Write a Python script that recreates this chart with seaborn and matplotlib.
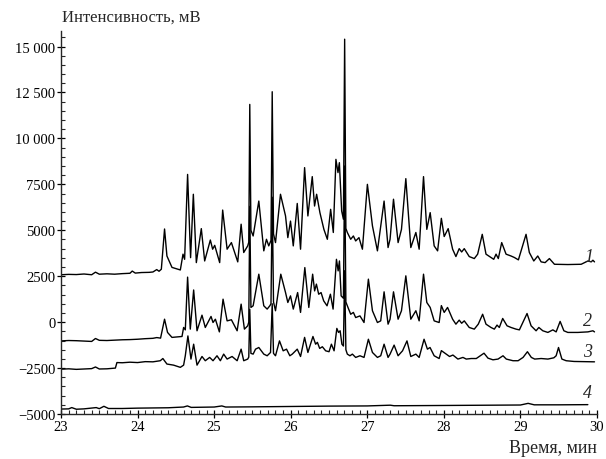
import numpy as np
import pandas as pd
import seaborn as sns
import matplotlib
matplotlib.use('Agg')
import matplotlib.pyplot as plt
import matplotlib.ticker as ticker

# retention time (min) and signal (mV)
t1 = [23.00, 23.10, 23.20, 23.30, 23.40, 23.45, 23.50, 23.60, 23.70, 23.80, 23.90, 23.93, 23.97,
      24.05, 24.15, 24.20, 24.25, 24.28, 24.31, 24.352, 24.383, 24.449, 24.558, 24.593, 24.614,
      24.653, 24.692, 24.728, 24.767, 24.832, 24.876, 24.950, 24.980, 25.007, 25.072, 25.111,
      25.169, 25.225, 25.308, 25.352, 25.386, 25.438, 25.452, 25.465, 25.480, 25.509, 25.583,
      25.648, 25.683, 25.713, 25.742, 25.758, 25.775, 25.801, 25.866, 25.932, 25.962, 25.997,
      26.033, 26.085, 26.128, 26.181, 26.224, 26.281, 26.311, 26.338, 26.381, 26.433, 26.478,
      26.521, 26.556, 26.590, 26.617, 26.635, 26.665, 26.688, 26.704, 26.720, 26.739, 26.783,
      26.818, 26.848, 26.891, 26.936, 27.001, 27.067, 27.132, 27.219, 27.271, 27.297, 27.342,
      27.402, 27.446, 27.503, 27.568, 27.634, 27.677, 27.734, 27.777, 27.821, 27.873, 27.918,
      27.967, 28.004, 28.056, 28.114, 28.157, 28.200, 28.232, 28.266, 28.331, 28.397, 28.441,
      28.501, 28.550, 28.615, 28.651, 28.681, 28.711, 28.755, 28.812, 28.877, 28.920, 28.973,
      29.073, 29.116, 29.174, 29.226, 29.270, 29.322, 29.378, 29.444, 29.530, 29.619, 29.700,
      29.793, 29.881, 29.924, 29.946, 29.967]
v1 = [2580, 2600, 2590, 2620, 2580, 2720, 2610, 2630, 2610, 2640, 2660, 2780, 2670,
      2700, 2710, 2730, 2860, 2770, 2880, 5070, 3600, 2980, 2840, 3700, 3420,
      8040, 3510, 6960, 3240, 5090, 3330, 4470, 3970, 4180, 3240, 6100,
      3970, 4330, 3280, 5330, 3790, 4150, 4350, 11850, 5000, 4690, 6590,
      3880, 4510, 4150, 4450, 12540, 4800, 4330, 6960, 5780, 4600, 5500,
      4150, 6460, 3970, 8410, 5780, 7920, 6320, 6960, 5960, 5050, 4510,
      6140, 4880, 8860, 8140, 8680, 6050, 5600, 15400, 5100, 4880, 4510,
      4690, 4420, 4600, 3970, 7500, 5240, 3880, 6590, 4060, 4510, 6690,
      4330, 5050, 7810, 4060, 4880, 3970, 7920, 5050, 5960, 4150, 3880,
      5650, 4660, 5090, 3970, 3570, 4000, 3820, 4000, 3570, 3460, 3700,
      4780, 3700, 3520, 3420, 3700, 3460, 4330, 3700, 3600, 3520, 3390,
      4780, 3790, 3330, 3600, 3280, 3240, 3460, 3150, 3140, 3135, 3140,
      3150, 3330, 3280, 3370, 3280]

t2 = [23.00, 23.10, 23.20, 23.30, 23.40, 23.45, 23.50, 23.60, 23.70, 23.80, 23.90, 24.00, 24.10,
      24.20, 24.25, 24.30, 24.352, 24.391, 24.449, 24.580, 24.601, 24.623, 24.653, 24.688, 24.732,
      24.776, 24.841, 24.884, 24.959, 24.985, 25.016, 25.068, 25.116, 25.169, 25.225, 25.300,
      25.352, 25.395, 25.438, 25.452, 25.465, 25.480, 25.509, 25.540, 25.583, 25.648, 25.692,
      25.727, 25.742, 25.758, 25.775, 25.801, 25.870, 25.932, 25.962, 25.997, 26.033, 26.090,
      26.128, 26.184, 26.236, 26.286, 26.312, 26.335, 26.365, 26.396, 26.430, 26.474, 26.518,
      26.553, 26.597, 26.619, 26.636, 26.658, 26.688, 26.704, 26.720, 26.739, 26.783, 26.818,
      26.848, 26.904, 26.957, 27.014, 27.067, 27.132, 27.175, 27.219, 27.271, 27.297, 27.342,
      27.402, 27.446, 27.503, 27.568, 27.634, 27.677, 27.734, 27.777, 27.821, 27.873, 27.938,
      27.967, 28.004, 28.048, 28.114, 28.157, 28.200, 28.232, 28.266, 28.331, 28.397, 28.449,
      28.506, 28.550, 28.615, 28.659, 28.694, 28.724, 28.768, 28.825, 28.877, 28.942, 28.986,
      29.086, 29.139, 29.204, 29.240, 29.292, 29.358, 29.423, 29.466, 29.518, 29.567, 29.619,
      29.750, 29.881, 29.946, 29.967]
v2 = [-1020, -1000, -1010, -1030, -1050, -890, -990, -1000, -980, -960, -950, -930, -900,
      -880, -840, -870, 160, -560, -830, -780, -290, -420, 2450, -380, 1750,
      -470, 380, -290, 310, -20, 160, -530, 1250, 70, 130, -470,
      980, -380, -200, 0, 6300, 800, 890, 1610, 2610, 890, 710,
      890, 1000, 6800, 1100, 620, 2610, 1610, 1070, 1430, 710, 1610,
      530, 2970, 800, 2610, 1700, 2070, 1520, 1610, 1160, 890, 1520,
      710, 3420, 2790, 3330, 1430, 1300, 8500, 1100, 890, 430, 530,
      250, 340, -20, 2340, 620, -20, 70, 1650, -110, 160, 1650,
      160, 620, 2520, 160, 620, 70, 2610, 1070, 800, 70, -20,
      900, 530, 800, 160, -110, 110, -60, 70, -290, -380, -110,
      430, -110, -290, -380, -160, -290, 200, -200, -290, -380, -420,
      470, -200, -470, -290, -470, -560, -420, -530, 40, -470, -560,
      -560, -530, -470, -530]

t3 = [23.00, 23.10, 23.20, 23.30, 23.40, 23.45, 23.50, 23.60, 23.71, 23.73, 23.80, 23.90, 24.00,
      24.10, 24.20, 24.296, 24.33, 24.383, 24.470, 24.558, 24.601, 24.623, 24.657, 24.697, 24.732,
      24.776, 24.841, 24.884, 24.941, 24.985, 25.037, 25.081, 25.124, 25.169, 25.234, 25.300,
      25.352, 25.386, 25.438, 25.452, 25.465, 25.480, 25.509, 25.540, 25.583, 25.648, 25.692,
      25.736, 25.758, 25.775, 25.801, 25.853, 25.901, 25.945, 25.988, 26.020, 26.085, 26.128,
      26.181, 26.224, 26.290, 26.325, 26.348, 26.378, 26.413, 26.456, 26.500, 26.531, 26.566,
      26.602, 26.624, 26.645, 26.668, 26.688, 26.704, 26.720, 26.739, 26.773, 26.805, 26.848,
      26.904, 26.957, 27.014, 27.067, 27.132, 27.175, 27.219, 27.271, 27.297, 27.350, 27.402,
      27.460, 27.518, 27.568, 27.634, 27.677, 27.741, 27.785, 27.819, 27.873, 27.938, 27.967,
      28.031, 28.074, 28.118, 28.183, 28.249, 28.292, 28.357, 28.423, 28.524, 28.576, 28.641,
      28.707, 28.772, 28.815, 28.903, 28.969, 29.034, 29.091, 29.142, 29.186, 29.270, 29.358,
      29.436, 29.466, 29.497, 29.541, 29.597, 29.700, 29.967]
v3 = [-2560, -2540, -2570, -2550, -2530, -2440, -2550, -2540, -2500, -2200, -2210, -2180, -2200,
      -2150, -2160, -2100, -1980, -2280, -2340, -2460, -2340, -1830, -750, -2010, -1200,
      -2340, -1870, -2100, -1920, -2100, -1830, -2100, -1740, -2010, -1870, -2100,
      -1470, -2100, -2010, -1900, 700, -1700, -1740, -1470, -1380, -1740, -1830,
      -1650, 1000, -1700, -1830, -1020, -1560, -1470, -1830, -1740, -1470, -1870,
      -830, -1650, -780, -1200, -1100, -1430, -1340, -1560, -1610, -1200, -1560,
      -340, -560, -470, -1200, -1300, 2800, -1500, -1740, -1830, -1740, -1920,
      -1830, -1920, -930, -1650, -1920, -1830, -1200, -1920, -1740, -1250, -1830,
      -1560, -1020, -1870, -1740, -1920, -930, -1470, -1380, -1830, -1980, -1550,
      -1740, -1870, -1790, -2010, -1920, -2010, -1980, -1980, -1690, -1960, -2050,
      -2010, -1830, -2010, -2100, -2100, -1920, -1610, -1920, -2010, -1980, -2010,
      -1940, -1830, -1380, -2010, -2100, -2140, -2160]

t4 = [23.00, 23.10, 23.14, 23.20, 23.30, 23.46, 23.50, 23.56, 23.62, 23.80, 24.00, 24.20, 24.40,
      24.60, 24.65, 24.70, 25.00, 25.10, 25.15, 25.50, 26.00, 26.50, 27.00, 27.30, 27.35,
      27.80, 28.20, 28.60, 29.00, 29.10, 29.18, 29.50, 29.88]
v4 = [-4730, -4720, -4650, -4740, -4720, -4650, -4710, -4580, -4700, -4700, -4680, -4670, -4660,
      -4620, -4560, -4640, -4620, -4560, -4620, -4610, -4590, -4570, -4560, -4520, -4550,
      -4540, -4530, -4520, -4510, -4420, -4500, -4500, -4490]

labels = ['1', '2', '3', '4']
label_t = [29.89, 29.87, 29.87, 29.88]
label_v = [3590, 70, -1620, -3820]

sns.set_theme(style='ticks')
plt.rcParams['font.family'] = ['Liberation Serif', 'DejaVu Serif']

fig = plt.figure(figsize=(6.06, 4.6), dpi=100)
ax = fig.add_axes([0.1007, 0.0978, 0.8845, 0.832])

for t, v in [(t1, v1), (t2, v2), (t3, v3), (t4, v4)]:
    df = pd.DataFrame({'time': t, 'signal': v})
    sns.lineplot(data=df, x='time', y='signal', ax=ax, color='black', linewidth=1.0,
                 estimator=None, sort=False)

for lab, x, y in zip(labels, label_t, label_v):
    ax.text(x, y, lab, fontsize=13, style='italic', ha='center', va='center')

ax.set_xlim(23, 30)
ax.set_ylim(-5000, 15830)
ax.set_xlabel('')
ax.set_ylabel('')
sns.despine(ax=ax)
ax.spines['left'].set_linewidth(1.0)
ax.spines['bottom'].set_linewidth(1.0)

ax.xaxis.set_major_locator(ticker.MultipleLocator(1))
ax.xaxis.set_minor_locator(ticker.MultipleLocator(0.1))
ax.yaxis.set_major_locator(ticker.MultipleLocator(2500))
ax.yaxis.set_minor_locator(ticker.MultipleLocator(500))


def fmt_y(val, pos):
    n = int(round(val))
    s = str(abs(n))
    if abs(n) >= 10000:
        s = s[:-3] + ' ' + s[-3:]
    return ('\u2212' if n < 0 else '') + s


ax.yaxis.set_major_formatter(ticker.FuncFormatter(fmt_y))
ax.tick_params(axis='both', which='major', direction='inout', length=6, width=0.9,
               labelsize=10.5, pad=1, colors='black')
ax.tick_params(axis='both', which='minor', direction='in', length=3, width=0.8)

fig.text(0.102, 0.961, 'Интенсивность, мВ', fontsize=12, ha='left', va='center')
fig.text(0.985, 0.026, 'Время, мин', fontsize=13, ha='right', va='center')

fig.savefig('out.png', dpi=100)
